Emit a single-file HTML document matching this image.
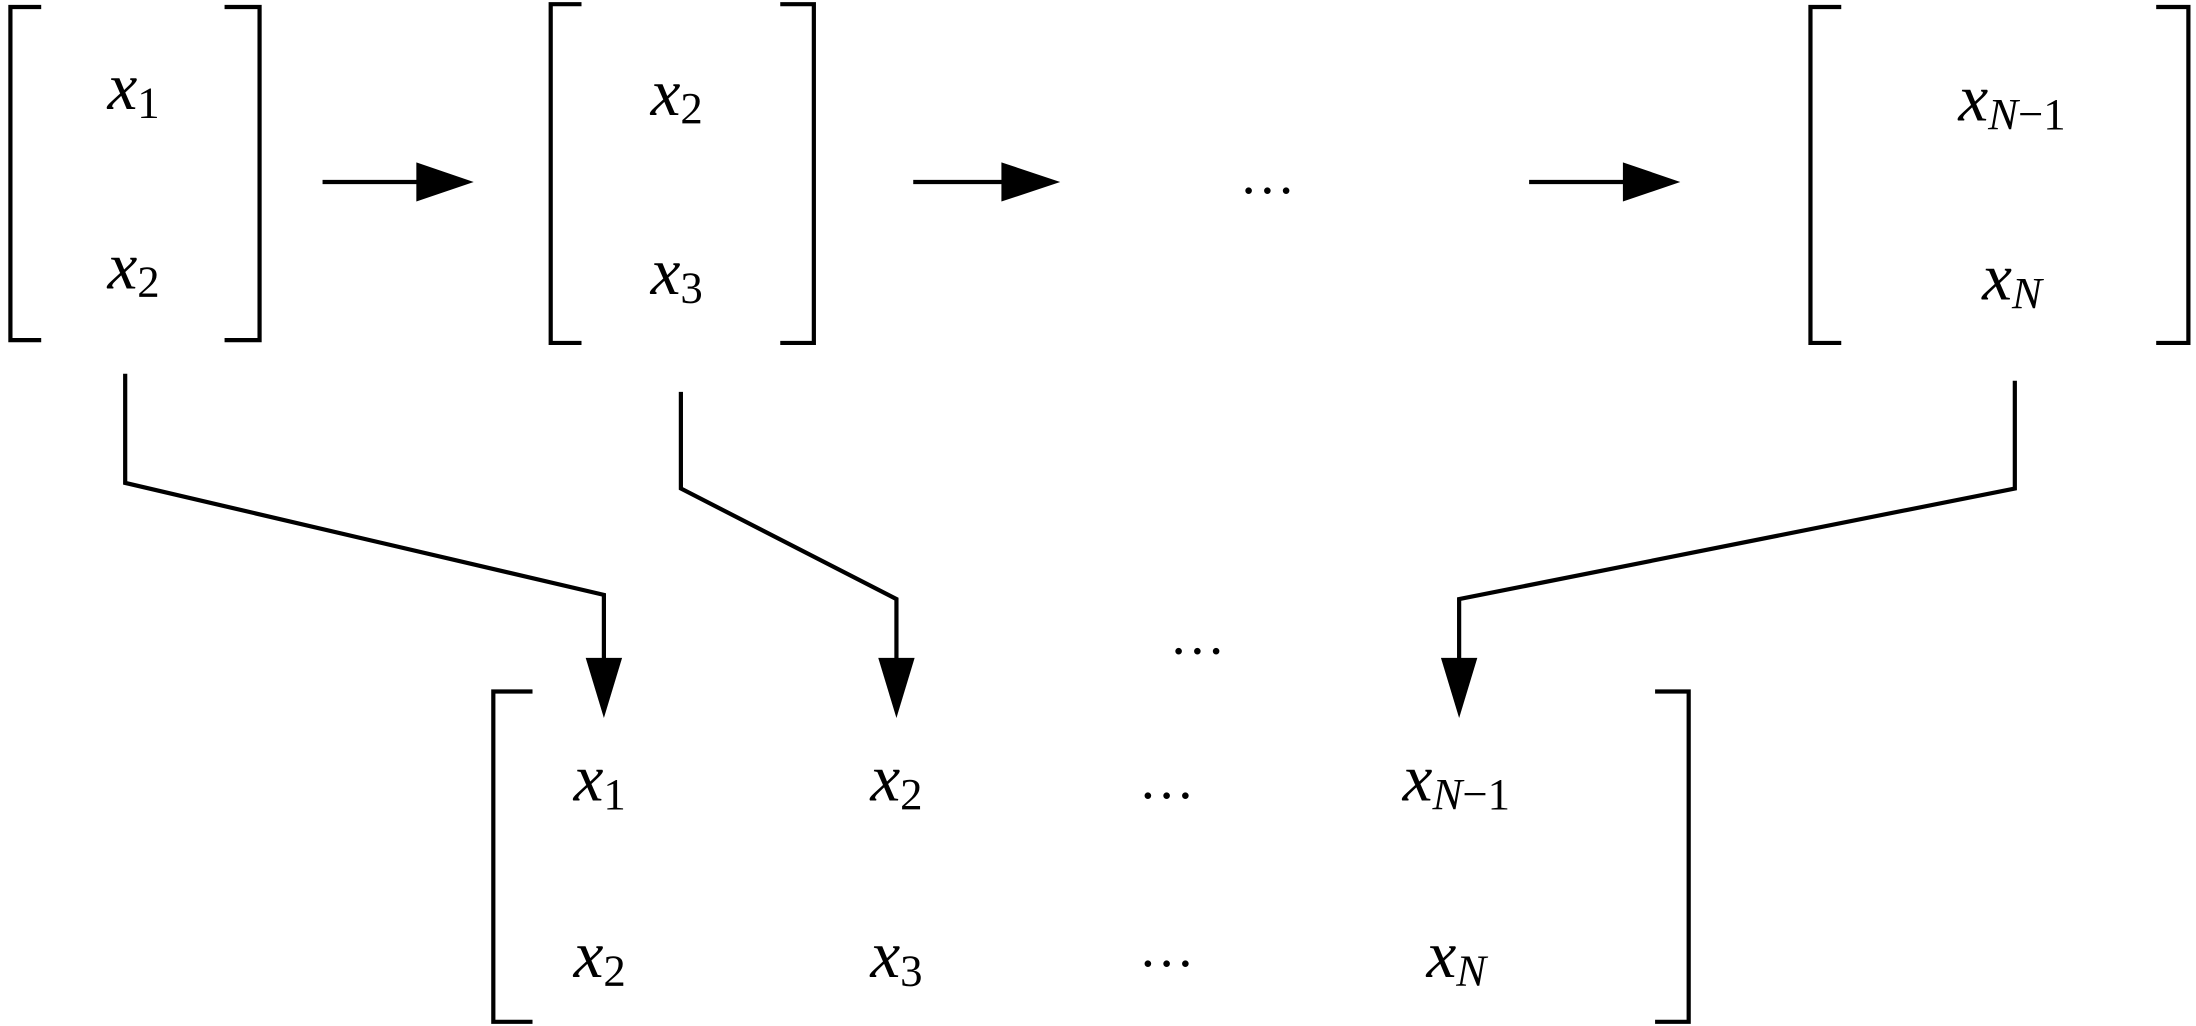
<!DOCTYPE html>
<html><head><meta charset="utf-8"><style>
html,body{margin:0;padding:0;background:#fff;}
svg{display:block;}
text{font-family:"Liberation Serif",serif;font-size:48px;fill:#000;}
.x{font-style:italic;}
.s{font-style:normal;font-size:32px;}
.n{font-style:italic;font-size:32px;}
.d{font-size:40px;font-style:normal;}
</style></head><body>
<svg width="2196" height="1026" viewBox="0 0 1568 733" xmlns="http://www.w3.org/2000/svg">
<g fill="none" stroke="#000" stroke-width="3">
<polyline points="29,5 7,5 7,243 29,243"/>
<polyline points="160,5 185,5 185,243 160,243"/>
<polyline points="415,3 393,3 393,245 415,245"/>
<polyline points="557,3 581,3 581,245 557,245"/>
<polyline points="1315,5 1293,5 1293,245 1315,245"/>
<polyline points="1540,5 1563,5 1563,245 1540,245"/>
<polyline points="380,494 352,494 352,730 380,730"/>
<polyline points="1182,494 1206,494 1206,730 1182,730"/>
<line x1="230" y1="130" x2="300" y2="130"/>
<line x1="652" y1="130" x2="718" y2="130"/>
<line x1="1092" y1="130" x2="1162" y2="130"/>
<polyline points="89,267 89,345 431,425 431,472"/>
<polyline points="486,280 486,349 640,428 640,472"/>
<polyline points="1439,272 1439,349 1042,428 1042,472"/>
</g>
<g fill="#000">
<polygon points="297,116 338,130 297,144"/>
<polygon points="715,116 757,130 715,144"/>
<polygon points="1159,116 1200,130 1159,144"/>
<polygon points="418,470 444,470 431,513"/>
<polygon points="627,470 653,470 640,513"/>
<polygon points="1029,470 1055,470 1042,513"/>
</g>
<g text-anchor="middle">
<text x="95" y="78"><tspan class="x">x</tspan><tspan class="s" dy="6">1</tspan></text>
<text x="95" y="206"><tspan class="x">x</tspan><tspan class="s" dy="6">2</tspan></text>
<text x="483" y="82"><tspan class="x">x</tspan><tspan class="s" dy="6">2</tspan></text>
<text x="483" y="210"><tspan class="x">x</tspan><tspan class="s" dy="6">3</tspan></text>
<text x="1437" y="86"><tspan class="x">x</tspan><tspan class="n" dy="6">N</tspan><tspan class="s">−1</tspan></text>
<text x="1437" y="214"><tspan class="x">x</tspan><tspan class="n" dy="6">N</tspan></text>
<text x="905" y="138" class="d">…</text>
<text x="855" y="467" class="d">…</text>
<text x="428" y="572"><tspan class="x">x</tspan><tspan class="s" dy="6">1</tspan></text>
<text x="640" y="572"><tspan class="x">x</tspan><tspan class="s" dy="6">2</tspan></text>
<text x="833" y="570" class="d">…</text>
<text x="1040" y="572"><tspan class="x">x</tspan><tspan class="n" dy="6">N</tspan><tspan class="s">−1</tspan></text>
<text x="428" y="698"><tspan class="x">x</tspan><tspan class="s" dy="6">2</tspan></text>
<text x="640" y="698"><tspan class="x">x</tspan><tspan class="s" dy="6">3</tspan></text>
<text x="833" y="690" class="d">…</text>
<text x="1040" y="698"><tspan class="x">x</tspan><tspan class="n" dy="6">N</tspan></text>
</g>
</svg>
</body></html>
